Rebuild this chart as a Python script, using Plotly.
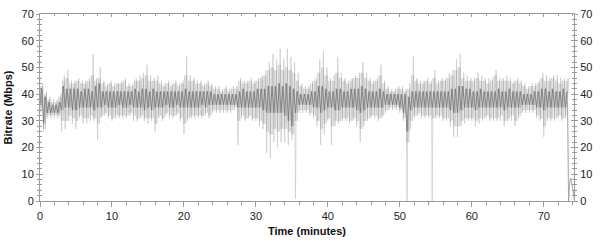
import plotly.graph_objects as go

# Time bins (minutes), 0.5-minute steps, with read-off ranges (Mbps)
t_bins = [i * 0.5 for i in range(147)]  # 0.0 .. 73.0

core_lo = [36,29,33,33,33,33,34,35,35,34,34,35,35,35,35,34,35,35,36,35,35,35,36,35,35,36,35,35,35,34,
           35,34,35,35,35,36,35,35,36,35,35,35,35,35,35,36,35,36,36,36,36,36,36,36,36,35,35,35,35,35,
           35,35,34,33,33,33,33,33,32,30,28,33,36,36,36,36,35,35,33,34,35,35,34,34,35,35,35,35,34,33,
           34,35,35,35,35,35,36,36,36,36,35,33,26,34,35,35,35,35,35,35,35,35,35,35,34,33,33,34,35,35,
           35,34,35,35,35,35,35,35,35,34,35,35,35,35,36,36,36,36,35,35,34,35,35,35,35,35,35]
core_hi = [42,39,37,36,36,37,43,42,42,42,42,41,42,42,41,43,44,41,41,41,41,41,41,41,41,41,42,41,42,42,
           41,42,41,41,41,41,41,41,41,41,42,41,41,41,41,41,41,41,40,40,40,40,40,40,40,41,42,41,41,41,
           42,42,42,43,43,43,44,43,44,43,42,41,40,40,40,41,41,43,43,42,41,41,42,42,41,41,42,42,42,43,
           42,41,41,41,42,41,40,40,40,40,40,40,39,41,41,41,41,41,41,41,41,41,41,41,42,42,43,43,42,42,
           41,41,42,41,41,41,41,42,41,41,42,41,41,41,40,40,40,41,41,42,42,41,42,41,41,42,41]
halo_lo = [34,27,32,32,32,32,30,30,32,31, 30,32,31,31,32,31,29,32,33,32, 31,32,32,32,32,33,32,31,32,31,
           31,31,29,32,31,33,32,32,33,31, 29,31,32,32,32,32,33,32,34,34, 34,34,34,34,35,30,32,31,32,31,
           31,30,29,26,25,27,26,27,27,26, 25,30,34,34,34,33,32,30,27,29, 31,28,30,30,31,31,30,31,30,27,
           30,31,32,32,31,32,34,35,35,35, 34,31,22,30,32,33,32,32,32,31, 32,32,31,31,30,28,28,30,31,31,
           31,30,31,31,32,31,31,31,32,30, 31,32,30,32,34,34,34,34,32,31, 28,31,31,31,32,31,32]
halo_hi = [43,40,38,37,37,39,45,46,44,44, 45,44,44,45,47,45,46,44,43,44, 43,44,44,45,43,43,45,45,46,47,
           45,45,45,44,43,44,43,44,43,44, 47,45,45,44,44,43,44,43,42,42, 41,42,41,42,42,45,44,44,45,44,
           45,46,47,49,50,49,51,49,50,49, 48,45,43,42,42,44,45,48,50,47, 45,45,48,46,45,44,45,46,46,48,
           46,45,44,45,47,44,42,41,41,42, 42,41,42,47,45,44,44,45,44,46, 44,45,45,46,47,49,50,46,45,45,
           45,46,45,45,44,45,47,45,45,45, 45,44,45,44,43,42,43,43,44,46, 45,45,46,45,44,45,45]
out_lo = [33,26,31,31,31,31,26,27,30,29,27,31,29,29,30,30,23,31,32,31,30,31,31,31,31,32,30,30,31,30,
          29,30,26,31,30,32,31,31,32,30,25,30,31,31,31,31,32,31,33,33,33,33,33,33,34,21,31,30,31,30,
          30,28,27,18,16,22,20,22,22,21,23,1,33,33,33,32,31,28,21,25,30,21,28,29,30,30,29,30,28,22,
          28,30,31,31,30,31,33,34,34,34,33,30,0,27,31,32,31,31,31,0,31,31,30,30,28,24,24,28,29,30,
          30,28,29,30,31,30,30,30,30,28,30,30,28,31,33,33,33,33,31,30,24,30,30,30,31,30,31]
out_hi = [44,41,39,38,38,40,47,49,45,45,46,45,45,46,55,46,50,45,44,45,44,44,45,46,44,44,46,47,48,51,
          47,46,47,45,44,45,44,45,44,45,54,47,46,45,45,44,45,44,43,43,42,43,42,43,43,46,45,45,46,45,
          46,47,49,52,55,53,57,53,57,54,52,48,44,43,43,45,46,53,56,50,46,47,54,48,46,45,46,47,48,52,
          48,46,45,46,51,45,43,42,42,43,43,42,44,54,46,45,45,46,45,49,45,46,46,48,49,53,55,48,47,46,
          46,48,47,46,46,46,49,46,46,47,46,45,46,45,44,43,44,44,45,48,47,46,47,47,46,46,46]

# End of the recording: drop to zero and a small final bump
t_tail = [73.3, 73.45, 73.6, 73.75, 73.9, 74.05, 74.3]
y_tail = [37, 0, 7, 8.6, 6.3, 4, 0]


def trace_path(t, cols, step):
    """Walk each bin through the given value columns, one after another."""
    xs, ys = [], []
    for i, ti in enumerate(t):
        for k, col in enumerate(cols):
            xs.append(ti + k * step)
            ys.append(col[i])
    return xs, ys


fig = go.Figure()
lx, ly = trace_path(t_bins, [out_lo, halo_hi, halo_lo, out_hi], 0.125)
fig.add_trace(go.Scatter(x=lx + t_tail, y=ly + y_tail, mode="lines",
                         line=dict(color="rgb(200,200,200)", width=0.7),
                         hoverinfo="skip", showlegend=False))
mx, my = trace_path(t_bins, [halo_lo, core_hi, core_lo, halo_hi], 0.125)
fig.add_trace(go.Scatter(x=mx, y=my, mode="lines",
                         line=dict(color="rgba(150,150,150,0.6)", width=0.6),
                         hoverinfo="skip", showlegend=False))
cx, cy = trace_path(t_bins, [core_lo, core_hi], 0.25)
fig.add_trace(go.Scatter(x=cx, y=cy, mode="lines",
                         line=dict(color="rgba(110,110,110,0.8)", width=0.9),
                         hoverinfo="skip", showlegend=False))
fig.add_trace(go.Scatter(x=t_tail, y=y_tail, mode="lines",
                         line=dict(color="rgba(150,150,150,0.85)", width=0.8),
                         hoverinfo="skip", showlegend=False))

axis_col = "#9a9a9a"
font_tick = dict(family="Liberation Sans, Arial, sans-serif", size=11, color="#222222")
xr = [0, 74.2]
yr = [0, 70]

fig.update_layout(
    width=600, height=244,
    margin=dict(l=40, r=26, t=8, b=36),
    paper_bgcolor="white", plot_bgcolor="white",
    showlegend=False,
    xaxis=dict(range=xr, dtick=10, tick0=0, showgrid=False, zeroline=False,
               showline=True, linecolor=axis_col, linewidth=1, mirror=True,
               ticks="outside", ticklen=5, tickcolor=axis_col, tickfont=font_tick,
               minor=dict(dtick=2, ticks="outside", ticklen=3, tickcolor=axis_col, showgrid=False),
               title=dict(text="<b>Time (minutes)</b>", standoff=6,
                          font=dict(family="Liberation Sans, Arial, sans-serif", size=11, color="#111"))),
    xaxis2=dict(range=xr, overlaying="x", side="top", dtick=10, tick0=0, showgrid=False,
                zeroline=False, showticklabels=False, ticks="inside", ticklen=3, tickcolor=axis_col,
                minor=dict(dtick=2, ticks="inside", ticklen=2, tickcolor=axis_col, showgrid=False)),
    yaxis=dict(range=yr, dtick=10, showgrid=False, zeroline=False,
               showline=True, linecolor=axis_col, linewidth=1, mirror=True,
               ticks="outside", ticklen=3, tickcolor=axis_col, tickfont=font_tick,
               minor=dict(dtick=2, ticks="outside", ticklen=2, tickcolor=axis_col, showgrid=False),
               title=dict(text="<b>Bitrate (Mbps)</b>", standoff=6,
                          font=dict(family="Liberation Sans, Arial, sans-serif", size=11, color="#111"))),
    yaxis2=dict(range=yr, overlaying="y", side="right", dtick=10, showgrid=False, zeroline=False,
                ticks="outside", ticklen=3, tickcolor=axis_col, tickfont=font_tick,
                minor=dict(dtick=2, ticks="outside", ticklen=2, tickcolor=axis_col, showgrid=False)),
    yaxis3=dict(range=yr, overlaying="y", side="left", dtick=10, showgrid=False, zeroline=False,
                showticklabels=False, ticks="inside", ticklen=3, tickcolor=axis_col,
                minor=dict(dtick=2, ticks="inside", ticklen=2, tickcolor=axis_col, showgrid=False)),
    yaxis4=dict(range=yr, overlaying="y", side="right", dtick=10, showgrid=False, zeroline=False,
                showticklabels=False, ticks="inside", ticklen=3, tickcolor=axis_col,
                minor=dict(dtick=2, ticks="inside", ticklen=2, tickcolor=axis_col, showgrid=False)),
)

for xa, ya in [("x2", "y"), ("x", "y2"), ("x", "y3"), ("x", "y4")]:
    fig.add_trace(go.Scatter(x=[None], y=[None], xaxis=xa, yaxis=ya, showlegend=False,
                             hoverinfo="skip"))

fig.write_html("out.html")
